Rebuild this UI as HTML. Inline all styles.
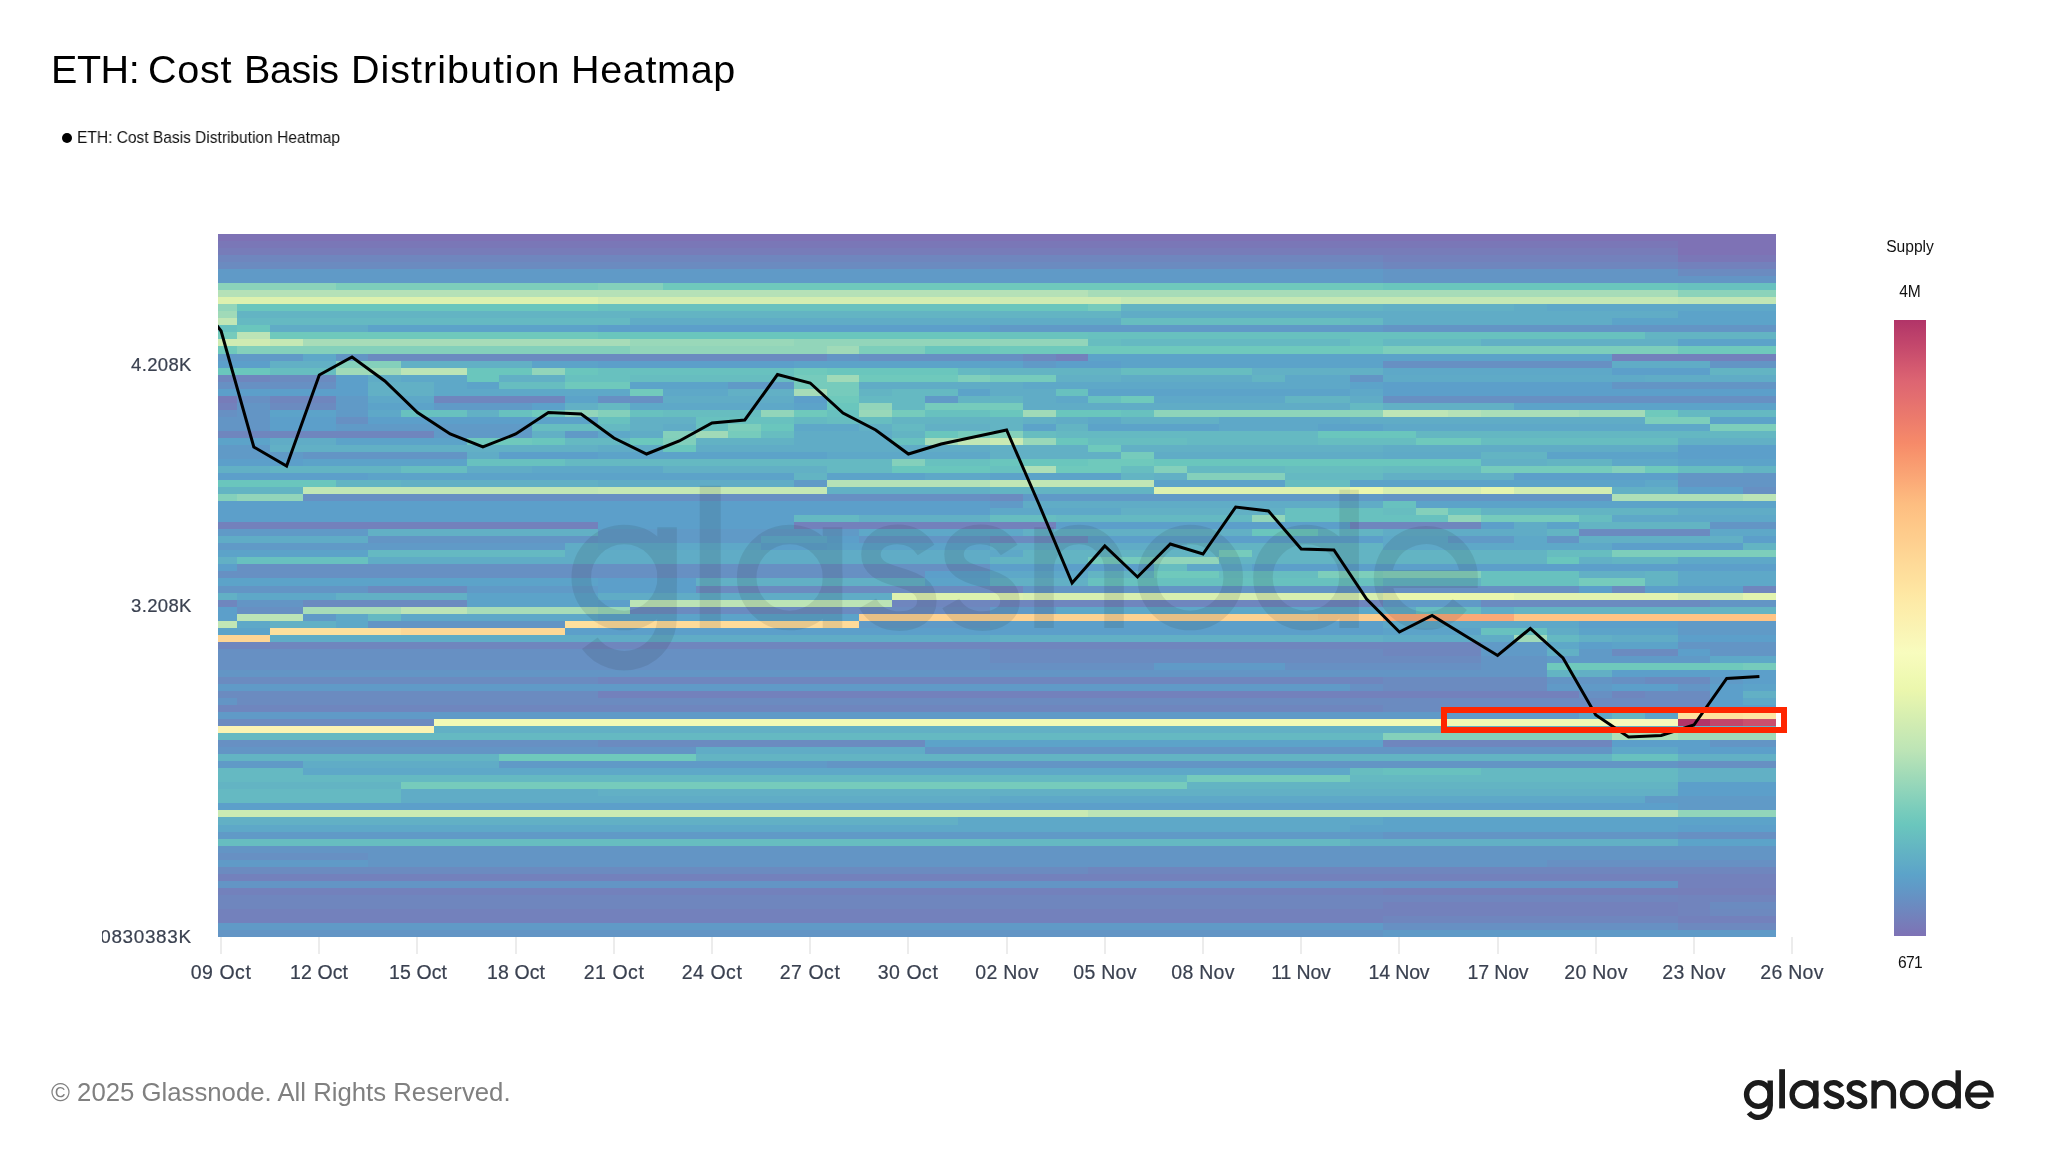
<!DOCTYPE html>
<html>
<head>
<meta charset="utf-8">
<title>ETH: Cost Basis Distribution Heatmap</title>
<style>
html,body{margin:0;padding:0;background:#fff;}
body{width:2048px;height:1152px;position:relative;overflow:hidden;font-family:"Liberation Sans",sans-serif;}
.abs{position:absolute;white-space:nowrap;}
.tw,.yt,.xt,#yclip div,.cbt,#footer,#legend{will-change:transform;}
.tw{top:43.7px;font-size:39.5px;line-height:50px;color:#000;}
#legend{left:77px;top:129.3px;font-size:16.6px;line-height:18px;color:#111;transform:scaleX(0.935);transform-origin:0 0;}
#legdot{left:61.7px;top:133.3px;width:10.2px;height:10.2px;border-radius:50%;background:#000;}
.yt{position:absolute;right:1856.3px;font-size:18.5px;line-height:22px;color:#3a4150;letter-spacing:0.35px;margin-top:0.55px;-webkit-text-stroke:0.2px #3a4150;white-space:nowrap;text-align:right;}
.xt{-webkit-text-stroke:0.2px #3a4150;position:absolute;top:960px;width:100px;text-align:center;font-size:19.5px;line-height:24px;color:#3a4150;letter-spacing:0.55px;white-space:nowrap;}
#yclip{position:absolute;left:102px;top:920px;width:91px;height:34px;overflow:hidden;}
#yclip div{position:absolute;right:1.1px;top:5.6px;font-size:18.9px;-webkit-text-stroke:0.2px #3a4150;line-height:22px;color:#3a4150;letter-spacing:0.66px;white-space:nowrap;}
.cbt{position:absolute;width:120px;left:1849.6px;text-align:center;font-size:15.6px;line-height:18px;color:#111;}
#footer{left:50.5px;top:1077px;font-size:25.74px;line-height:30px;color:#808080;}
#logo{left:1742px;top:1058px;font-size:54px;line-height:62px;color:#1b1b1b;-webkit-text-stroke:0.6px #1b1b1b;}
#wm{left:566px;top:455px;font-size:196px;line-height:230px;color:rgba(40,50,70,0.13);letter-spacing:1px;font-weight:bold;}
svg{position:absolute;left:0;top:0;}
</style>
</head>
<body>
<svg width="2048" height="1152" viewBox="0 0 2048 1152" shape-rendering="crispEdges">
<defs>
<linearGradient id="cb" x1="0" y1="0" x2="0" y2="1"><stop offset="0%" stop-color="#b13468"/><stop offset="2%" stop-color="#ba3e6a"/><stop offset="4%" stop-color="#c3476c"/><stop offset="6%" stop-color="#cc516e"/><stop offset="8%" stop-color="#d55b70"/><stop offset="10%" stop-color="#dd6572"/><stop offset="12%" stop-color="#e26c70"/><stop offset="14%" stop-color="#e7746e"/><stop offset="16%" stop-color="#ec7b6c"/><stop offset="18%" stop-color="#f1836b"/><stop offset="20%" stop-color="#f68a69"/><stop offset="22%" stop-color="#f8956d"/><stop offset="24%" stop-color="#f99f72"/><stop offset="26%" stop-color="#fba977"/><stop offset="28%" stop-color="#fcb47c"/><stop offset="30%" stop-color="#fdbe81"/><stop offset="32%" stop-color="#fec485"/><stop offset="34%" stop-color="#feca8a"/><stop offset="36%" stop-color="#fecf8f"/><stop offset="38%" stop-color="#fed594"/><stop offset="40%" stop-color="#fedb99"/><stop offset="42%" stop-color="#fee09d"/><stop offset="44%" stop-color="#fee6a2"/><stop offset="46%" stop-color="#fdeba8"/><stop offset="48%" stop-color="#fcefad"/><stop offset="50%" stop-color="#faf3b3"/><stop offset="52%" stop-color="#f9f7b9"/><stop offset="54%" stop-color="#f8fcbe"/><stop offset="56%" stop-color="#f4fab8"/><stop offset="58%" stop-color="#eff9b2"/><stop offset="60%" stop-color="#ebf7ad"/><stop offset="62%" stop-color="#e2f3af"/><stop offset="64%" stop-color="#d8efb0"/><stop offset="66%" stop-color="#cfebb2"/><stop offset="68%" stop-color="#c5e8b4"/><stop offset="70%" stop-color="#bce4b6"/><stop offset="72%" stop-color="#aedfb7"/><stop offset="74%" stop-color="#a0dab8"/><stop offset="76%" stop-color="#92d5ba"/><stop offset="78%" stop-color="#84d0bb"/><stop offset="80%" stop-color="#76cbbc"/><stop offset="82%" stop-color="#6ac6bd"/><stop offset="84%" stop-color="#67bdc0"/><stop offset="86%" stop-color="#63b4c3"/><stop offset="88%" stop-color="#60acc6"/><stop offset="90%" stop-color="#5ca3c9"/><stop offset="92%" stop-color="#609ac7"/><stop offset="94%" stop-color="#6790c3"/><stop offset="96%" stop-color="#6f86be"/><stop offset="98%" stop-color="#777cb9"/><stop offset="100%" stop-color="#7e72b5"/></linearGradient>
</defs>
<g>
<rect x="218.00" y="234.00" width="1557.77" height="7.33" fill="#7e72b5"/>
<rect x="218.00" y="241.03" width="1459.88" height="7.33" fill="#7a77b7"/>
<rect x="1677.58" y="241.03" width="98.19" height="7.33" fill="#7e72b5"/>
<rect x="218.00" y="248.06" width="1459.88" height="7.33" fill="#777cb9"/>
<rect x="1677.58" y="248.06" width="98.19" height="7.33" fill="#7e72b5"/>
<rect x="218.00" y="255.09" width="1165.31" height="7.33" fill="#6f86be"/>
<rect x="1383.01" y="255.09" width="294.87" height="7.33" fill="#7381bc"/>
<rect x="1677.58" y="255.09" width="98.19" height="7.33" fill="#7a77b7"/>
<rect x="218.00" y="262.12" width="1165.31" height="7.33" fill="#6b8bc0"/>
<rect x="1383.01" y="262.12" width="294.87" height="7.33" fill="#6f86be"/>
<rect x="1677.58" y="262.12" width="98.19" height="7.33" fill="#7381bc"/>
<rect x="218.00" y="269.15" width="1165.31" height="7.33" fill="#609ac7"/>
<rect x="1383.01" y="269.15" width="294.87" height="7.33" fill="#6395c5"/>
<rect x="1677.58" y="269.15" width="98.19" height="7.33" fill="#6b8bc0"/>
<rect x="218.00" y="276.18" width="1165.31" height="7.33" fill="#609ac7"/>
<rect x="1383.01" y="276.18" width="392.76" height="7.33" fill="#6395c5"/>
<rect x="218.00" y="283.21" width="117.95" height="7.33" fill="#8bd3ba"/>
<rect x="335.65" y="283.21" width="262.14" height="7.33" fill="#7dcebb"/>
<rect x="597.50" y="283.21" width="65.76" height="7.33" fill="#84d0bb"/>
<rect x="662.95" y="283.21" width="720.36" height="7.33" fill="#6fc9bc"/>
<rect x="1383.01" y="283.21" width="294.87" height="7.33" fill="#6ac6bd"/>
<rect x="1677.58" y="283.21" width="98.19" height="7.33" fill="#68c1bf"/>
<rect x="218.00" y="290.24" width="870.74" height="7.33" fill="#b5e1b7"/>
<rect x="1088.44" y="290.24" width="589.44" height="7.33" fill="#a7dcb8"/>
<rect x="1677.58" y="290.24" width="98.19" height="7.33" fill="#8bd3ba"/>
<rect x="218.00" y="297.27" width="379.80" height="7.33" fill="#ddf1af"/>
<rect x="597.50" y="297.27" width="393.06" height="7.33" fill="#d3edb1"/>
<rect x="990.25" y="297.27" width="131.22" height="7.33" fill="#cfebb2"/>
<rect x="1121.17" y="297.27" width="556.71" height="7.33" fill="#c5e8b4"/>
<rect x="1677.58" y="297.27" width="98.19" height="7.33" fill="#c1e6b5"/>
<rect x="218.00" y="304.30" width="19.77" height="7.33" fill="#92d5ba"/>
<rect x="237.47" y="304.30" width="360.33" height="7.33" fill="#6ac6bd"/>
<rect x="597.50" y="304.30" width="393.06" height="7.33" fill="#68c1bf"/>
<rect x="990.25" y="304.30" width="98.49" height="7.33" fill="#6ac6bd"/>
<rect x="1088.44" y="304.30" width="33.03" height="7.33" fill="#76cbbc"/>
<rect x="1121.17" y="304.30" width="262.14" height="7.33" fill="#63b4c3"/>
<rect x="1383.01" y="304.30" width="131.22" height="7.33" fill="#62b0c5"/>
<rect x="1513.93" y="304.30" width="33.03" height="7.33" fill="#60acc6"/>
<rect x="1546.66" y="304.30" width="229.11" height="7.33" fill="#5ea8c8"/>
<rect x="218.00" y="311.33" width="19.77" height="7.33" fill="#a0dab8"/>
<rect x="237.47" y="311.33" width="884.01" height="7.33" fill="#63b4c3"/>
<rect x="1121.17" y="311.33" width="556.71" height="7.33" fill="#60acc6"/>
<rect x="1677.58" y="311.33" width="98.19" height="7.33" fill="#5ca3c9"/>
<rect x="218.00" y="318.36" width="19.77" height="7.33" fill="#c1e6b5"/>
<rect x="237.47" y="318.36" width="393.06" height="7.33" fill="#65b9c2"/>
<rect x="630.22" y="318.36" width="491.25" height="7.33" fill="#60acc6"/>
<rect x="1121.17" y="318.36" width="229.41" height="7.33" fill="#67bdc0"/>
<rect x="1350.28" y="318.36" width="33.03" height="7.33" fill="#65b9c2"/>
<rect x="1383.01" y="318.36" width="229.41" height="7.33" fill="#60acc6"/>
<rect x="1612.12" y="318.36" width="163.65" height="7.33" fill="#5ca3c9"/>
<rect x="218.00" y="325.39" width="19.77" height="7.33" fill="#68c1bf"/>
<rect x="237.47" y="325.39" width="33.03" height="7.33" fill="#6ac6bd"/>
<rect x="270.19" y="325.39" width="98.49" height="7.33" fill="#60acc6"/>
<rect x="368.38" y="325.39" width="229.41" height="7.33" fill="#5ca3c9"/>
<rect x="597.50" y="325.39" width="393.06" height="7.33" fill="#5c9fca"/>
<rect x="990.25" y="325.39" width="393.06" height="7.33" fill="#609ac7"/>
<rect x="1383.01" y="325.39" width="392.76" height="7.33" fill="#6395c5"/>
<rect x="218.00" y="332.42" width="19.77" height="7.33" fill="#76cbbc"/>
<rect x="237.47" y="332.42" width="33.03" height="7.33" fill="#bce4b6"/>
<rect x="270.19" y="332.42" width="327.60" height="7.33" fill="#6fc9bc"/>
<rect x="597.50" y="332.42" width="393.06" height="7.33" fill="#6ac6bd"/>
<rect x="990.25" y="332.42" width="98.49" height="7.33" fill="#69c3be"/>
<rect x="1088.44" y="332.42" width="556.71" height="7.33" fill="#68c1bf"/>
<rect x="1644.85" y="332.42" width="130.92" height="7.33" fill="#63b4c3"/>
<rect x="218.00" y="339.45" width="52.49" height="7.33" fill="#cfebb2"/>
<rect x="270.19" y="339.45" width="33.03" height="7.33" fill="#c5e8b4"/>
<rect x="302.92" y="339.45" width="327.60" height="7.33" fill="#a7dcb8"/>
<rect x="630.22" y="339.45" width="163.95" height="7.33" fill="#99d8b9"/>
<rect x="793.88" y="339.45" width="294.87" height="7.33" fill="#92d5ba"/>
<rect x="1088.44" y="339.45" width="33.03" height="7.33" fill="#67bdc0"/>
<rect x="1121.17" y="339.45" width="229.41" height="7.33" fill="#65b9c2"/>
<rect x="1350.28" y="339.45" width="33.03" height="7.33" fill="#68c1bf"/>
<rect x="1383.01" y="339.45" width="98.49" height="7.33" fill="#65b9c2"/>
<rect x="1481.20" y="339.45" width="196.68" height="7.33" fill="#62b0c5"/>
<rect x="1677.58" y="339.45" width="98.19" height="7.33" fill="#5ca3c9"/>
<rect x="218.00" y="346.48" width="19.77" height="7.33" fill="#6fc9bc"/>
<rect x="237.47" y="346.48" width="393.06" height="7.33" fill="#84d0bb"/>
<rect x="630.22" y="346.48" width="196.68" height="7.33" fill="#92d5ba"/>
<rect x="826.61" y="346.48" width="33.03" height="7.33" fill="#a0dab8"/>
<rect x="859.33" y="346.48" width="65.76" height="7.33" fill="#7dcebb"/>
<rect x="924.79" y="346.48" width="65.76" height="7.33" fill="#6ac6bd"/>
<rect x="990.25" y="346.48" width="393.06" height="7.33" fill="#6fc9bc"/>
<rect x="1383.01" y="346.48" width="294.87" height="7.33" fill="#7dcebb"/>
<rect x="1677.58" y="346.48" width="98.19" height="7.33" fill="#6fc9bc"/>
<rect x="218.00" y="353.51" width="85.22" height="7.33" fill="#609ac7"/>
<rect x="302.92" y="353.51" width="33.03" height="7.33" fill="#5ea8c8"/>
<rect x="335.65" y="353.51" width="33.03" height="7.33" fill="#6395c5"/>
<rect x="368.38" y="353.51" width="458.52" height="7.33" fill="#6b8bc0"/>
<rect x="826.61" y="353.51" width="33.03" height="7.33" fill="#6395c5"/>
<rect x="859.33" y="353.51" width="163.95" height="7.33" fill="#6790c3"/>
<rect x="1022.98" y="353.51" width="33.03" height="7.33" fill="#6d89bf"/>
<rect x="1055.71" y="353.51" width="33.03" height="7.33" fill="#7381bc"/>
<rect x="1088.44" y="353.51" width="523.98" height="7.33" fill="#5ca3c9"/>
<rect x="1612.12" y="353.51" width="163.65" height="7.33" fill="#7381bc"/>
<rect x="218.00" y="360.54" width="52.49" height="7.33" fill="#5c9fca"/>
<rect x="270.19" y="360.54" width="65.76" height="7.33" fill="#62b0c5"/>
<rect x="335.65" y="360.54" width="65.76" height="7.33" fill="#84d0bb"/>
<rect x="401.12" y="360.54" width="131.22" height="7.33" fill="#62b0c5"/>
<rect x="532.03" y="360.54" width="65.76" height="7.33" fill="#5ca3c9"/>
<rect x="597.50" y="360.54" width="196.68" height="7.33" fill="#5c9fca"/>
<rect x="793.88" y="360.54" width="229.41" height="7.33" fill="#5ca3c9"/>
<rect x="1022.98" y="360.54" width="33.03" height="7.33" fill="#609ac7"/>
<rect x="1055.71" y="360.54" width="65.76" height="7.33" fill="#5c9fca"/>
<rect x="1121.17" y="360.54" width="262.14" height="7.33" fill="#5ca3c9"/>
<rect x="1383.01" y="360.54" width="229.41" height="7.33" fill="#6790c3"/>
<rect x="1612.12" y="360.54" width="98.49" height="7.33" fill="#60acc6"/>
<rect x="1710.31" y="360.54" width="65.46" height="7.33" fill="#6395c5"/>
<rect x="218.00" y="367.57" width="52.49" height="7.33" fill="#6ac6bd"/>
<rect x="270.19" y="367.57" width="65.76" height="7.33" fill="#67bdc0"/>
<rect x="335.65" y="367.57" width="65.76" height="7.33" fill="#a0dab8"/>
<rect x="401.12" y="367.57" width="65.76" height="7.33" fill="#bce4b6"/>
<rect x="466.57" y="367.57" width="65.76" height="7.33" fill="#6ac6bd"/>
<rect x="532.03" y="367.57" width="33.03" height="7.33" fill="#92d5ba"/>
<rect x="564.76" y="367.57" width="33.03" height="7.33" fill="#6ac6bd"/>
<rect x="597.50" y="367.57" width="196.68" height="7.33" fill="#68c1bf"/>
<rect x="793.88" y="367.57" width="33.03" height="7.33" fill="#6fc9bc"/>
<rect x="826.61" y="367.57" width="131.22" height="7.33" fill="#6ac6bd"/>
<rect x="957.52" y="367.57" width="33.03" height="7.33" fill="#65b9c2"/>
<rect x="990.25" y="367.57" width="131.22" height="7.33" fill="#63b4c3"/>
<rect x="1121.17" y="367.57" width="131.22" height="7.33" fill="#67bdc0"/>
<rect x="1252.09" y="367.57" width="131.22" height="7.33" fill="#62b0c5"/>
<rect x="1383.01" y="367.57" width="229.41" height="7.33" fill="#5ea8c8"/>
<rect x="1612.12" y="367.57" width="98.49" height="7.33" fill="#5c9fca"/>
<rect x="1710.31" y="367.57" width="65.46" height="7.33" fill="#63b4c3"/>
<rect x="218.00" y="374.60" width="52.49" height="7.33" fill="#6f86be"/>
<rect x="270.19" y="374.60" width="65.76" height="7.33" fill="#6b8bc0"/>
<rect x="335.65" y="374.60" width="33.03" height="7.33" fill="#5c9fca"/>
<rect x="368.38" y="374.60" width="33.03" height="7.33" fill="#60acc6"/>
<rect x="401.12" y="374.60" width="65.76" height="7.33" fill="#5ea8c8"/>
<rect x="466.57" y="374.60" width="33.03" height="7.33" fill="#6ac6bd"/>
<rect x="499.30" y="374.60" width="65.76" height="7.33" fill="#62b0c5"/>
<rect x="564.76" y="374.60" width="65.76" height="7.33" fill="#68c1bf"/>
<rect x="630.22" y="374.60" width="163.95" height="7.33" fill="#67bdc0"/>
<rect x="793.88" y="374.60" width="33.03" height="7.33" fill="#76cbbc"/>
<rect x="826.61" y="374.60" width="33.03" height="7.33" fill="#a0dab8"/>
<rect x="859.33" y="374.60" width="98.49" height="7.33" fill="#6fc9bc"/>
<rect x="957.52" y="374.60" width="33.03" height="7.33" fill="#80cfbb"/>
<rect x="990.25" y="374.60" width="65.76" height="7.33" fill="#76cbbc"/>
<rect x="1055.71" y="374.60" width="65.76" height="7.33" fill="#62b0c5"/>
<rect x="1121.17" y="374.60" width="131.22" height="7.33" fill="#60acc6"/>
<rect x="1252.09" y="374.60" width="33.03" height="7.33" fill="#63b4c3"/>
<rect x="1284.82" y="374.60" width="65.76" height="7.33" fill="#5ea8c8"/>
<rect x="1350.28" y="374.60" width="33.03" height="7.33" fill="#6395c5"/>
<rect x="1383.01" y="374.60" width="262.14" height="7.33" fill="#5faac7"/>
<rect x="1644.85" y="374.60" width="130.92" height="7.33" fill="#60acc6"/>
<rect x="218.00" y="381.63" width="117.95" height="7.33" fill="#6790c3"/>
<rect x="335.65" y="381.63" width="33.03" height="7.33" fill="#5c9fca"/>
<rect x="368.38" y="381.63" width="65.76" height="7.33" fill="#62b0c5"/>
<rect x="433.84" y="381.63" width="33.03" height="7.33" fill="#5ea8c8"/>
<rect x="466.57" y="381.63" width="33.03" height="7.33" fill="#5ca3c9"/>
<rect x="499.30" y="381.63" width="65.76" height="7.33" fill="#67bdc0"/>
<rect x="564.76" y="381.63" width="65.76" height="7.33" fill="#6fc9bc"/>
<rect x="630.22" y="381.63" width="98.49" height="7.33" fill="#5ca3c9"/>
<rect x="728.41" y="381.63" width="65.76" height="7.33" fill="#609ac7"/>
<rect x="793.88" y="381.63" width="65.76" height="7.33" fill="#76cbbc"/>
<rect x="859.33" y="381.63" width="163.95" height="7.33" fill="#60acc6"/>
<rect x="1022.98" y="381.63" width="327.60" height="7.33" fill="#5ea8c8"/>
<rect x="1350.28" y="381.63" width="33.03" height="7.33" fill="#5ca3c9"/>
<rect x="1383.01" y="381.63" width="229.41" height="7.33" fill="#5c9fca"/>
<rect x="1612.12" y="381.63" width="163.65" height="7.33" fill="#6395c5"/>
<rect x="218.00" y="388.66" width="150.69" height="7.33" fill="#5c9fca"/>
<rect x="368.38" y="388.66" width="65.76" height="7.33" fill="#62b0c5"/>
<rect x="433.84" y="388.66" width="196.68" height="7.33" fill="#5ea8c8"/>
<rect x="630.22" y="388.66" width="33.03" height="7.33" fill="#72cabc"/>
<rect x="662.95" y="388.66" width="65.76" height="7.33" fill="#5ea8c8"/>
<rect x="728.41" y="388.66" width="65.76" height="7.33" fill="#62b0c5"/>
<rect x="793.88" y="388.66" width="33.03" height="7.33" fill="#a7dcb8"/>
<rect x="826.61" y="388.66" width="33.03" height="7.33" fill="#76cbbc"/>
<rect x="859.33" y="388.66" width="33.03" height="7.33" fill="#63b4c3"/>
<rect x="892.06" y="388.66" width="65.76" height="7.33" fill="#65b9c2"/>
<rect x="957.52" y="388.66" width="33.03" height="7.33" fill="#5ca3c9"/>
<rect x="990.25" y="388.66" width="65.76" height="7.33" fill="#60acc6"/>
<rect x="1055.71" y="388.66" width="33.03" height="7.33" fill="#68c1bf"/>
<rect x="1088.44" y="388.66" width="262.14" height="7.33" fill="#5ca3c9"/>
<rect x="1350.28" y="388.66" width="33.03" height="7.33" fill="#5ea8c8"/>
<rect x="1383.01" y="388.66" width="392.76" height="7.33" fill="#5c9fca"/>
<rect x="218.00" y="395.69" width="19.77" height="7.33" fill="#777cb9"/>
<rect x="237.47" y="395.69" width="33.03" height="7.33" fill="#6790c3"/>
<rect x="270.19" y="395.69" width="65.76" height="7.33" fill="#6f86be"/>
<rect x="335.65" y="395.69" width="33.03" height="7.33" fill="#609ac7"/>
<rect x="368.38" y="395.69" width="65.76" height="7.33" fill="#5ea8c8"/>
<rect x="433.84" y="395.69" width="131.22" height="7.33" fill="#6f86be"/>
<rect x="564.76" y="395.69" width="33.03" height="7.33" fill="#5ca3c9"/>
<rect x="597.50" y="395.69" width="65.76" height="7.33" fill="#6790c3"/>
<rect x="662.95" y="395.69" width="131.22" height="7.33" fill="#60acc6"/>
<rect x="793.88" y="395.69" width="33.03" height="7.33" fill="#5c9fca"/>
<rect x="826.61" y="395.69" width="33.03" height="7.33" fill="#6fc9bc"/>
<rect x="859.33" y="395.69" width="65.76" height="7.33" fill="#65b9c2"/>
<rect x="924.79" y="395.69" width="33.03" height="7.33" fill="#609ac7"/>
<rect x="957.52" y="395.69" width="65.76" height="7.33" fill="#63b4c3"/>
<rect x="1022.98" y="395.69" width="33.03" height="7.33" fill="#60acc6"/>
<rect x="1055.71" y="395.69" width="33.03" height="7.33" fill="#5ea8c8"/>
<rect x="1088.44" y="395.69" width="33.03" height="7.33" fill="#68c1bf"/>
<rect x="1121.17" y="395.69" width="33.03" height="7.33" fill="#6fc9bc"/>
<rect x="1153.90" y="395.69" width="131.22" height="7.33" fill="#5ea8c8"/>
<rect x="1284.82" y="395.69" width="65.76" height="7.33" fill="#63b4c3"/>
<rect x="1350.28" y="395.69" width="33.03" height="7.33" fill="#60acc6"/>
<rect x="1383.01" y="395.69" width="392.76" height="7.33" fill="#6790c3"/>
<rect x="218.00" y="402.72" width="19.77" height="7.33" fill="#7381bc"/>
<rect x="237.47" y="402.72" width="33.03" height="7.33" fill="#6395c5"/>
<rect x="270.19" y="402.72" width="65.76" height="7.33" fill="#6b8bc0"/>
<rect x="335.65" y="402.72" width="33.03" height="7.33" fill="#609ac7"/>
<rect x="368.38" y="402.72" width="65.76" height="7.33" fill="#5ca3c9"/>
<rect x="433.84" y="402.72" width="98.49" height="7.33" fill="#609ac7"/>
<rect x="532.03" y="402.72" width="33.03" height="7.33" fill="#5ca1ca"/>
<rect x="564.76" y="402.72" width="33.03" height="7.33" fill="#62b0c5"/>
<rect x="597.50" y="402.72" width="33.03" height="7.33" fill="#65b9c2"/>
<rect x="630.22" y="402.72" width="163.95" height="7.33" fill="#5ea8c8"/>
<rect x="793.88" y="402.72" width="33.03" height="7.33" fill="#5ca3c9"/>
<rect x="826.61" y="402.72" width="33.03" height="7.33" fill="#6ac6bd"/>
<rect x="859.33" y="402.72" width="33.03" height="7.33" fill="#92d5ba"/>
<rect x="892.06" y="402.72" width="33.03" height="7.33" fill="#65b9c2"/>
<rect x="924.79" y="402.72" width="98.49" height="7.33" fill="#76cbbc"/>
<rect x="1022.98" y="402.72" width="327.60" height="7.33" fill="#60acc6"/>
<rect x="1350.28" y="402.72" width="33.03" height="7.33" fill="#65b9c2"/>
<rect x="1383.01" y="402.72" width="131.22" height="7.33" fill="#62b0c5"/>
<rect x="1513.93" y="402.72" width="261.84" height="7.33" fill="#5ca3c9"/>
<rect x="218.00" y="409.75" width="19.77" height="7.33" fill="#6790c3"/>
<rect x="237.47" y="409.75" width="33.03" height="7.33" fill="#6395c5"/>
<rect x="270.19" y="409.75" width="65.76" height="7.33" fill="#5ca3c9"/>
<rect x="335.65" y="409.75" width="33.03" height="7.33" fill="#609ac7"/>
<rect x="368.38" y="409.75" width="33.03" height="7.33" fill="#5ea8c8"/>
<rect x="401.12" y="409.75" width="65.76" height="7.33" fill="#68c1bf"/>
<rect x="466.57" y="409.75" width="33.03" height="7.33" fill="#62b0c5"/>
<rect x="499.30" y="409.75" width="33.03" height="7.33" fill="#68c1bf"/>
<rect x="532.03" y="409.75" width="33.03" height="7.33" fill="#6fc9bc"/>
<rect x="564.76" y="409.75" width="33.03" height="7.33" fill="#92d5ba"/>
<rect x="597.50" y="409.75" width="33.03" height="7.33" fill="#84d0bb"/>
<rect x="630.22" y="409.75" width="33.03" height="7.33" fill="#68c1bf"/>
<rect x="662.95" y="409.75" width="98.49" height="7.33" fill="#67bdc0"/>
<rect x="761.14" y="409.75" width="33.03" height="7.33" fill="#92d5ba"/>
<rect x="793.88" y="409.75" width="33.03" height="7.33" fill="#6fc9bc"/>
<rect x="826.61" y="409.75" width="33.03" height="7.33" fill="#68c1bf"/>
<rect x="859.33" y="409.75" width="33.03" height="7.33" fill="#99d8b9"/>
<rect x="892.06" y="409.75" width="33.03" height="7.33" fill="#76cbbc"/>
<rect x="924.79" y="409.75" width="65.76" height="7.33" fill="#68c1bf"/>
<rect x="990.25" y="409.75" width="33.03" height="7.33" fill="#6ac6bd"/>
<rect x="1022.98" y="409.75" width="33.03" height="7.33" fill="#a0dab8"/>
<rect x="1055.71" y="409.75" width="65.76" height="7.33" fill="#6ac6bd"/>
<rect x="1121.17" y="409.75" width="33.03" height="7.33" fill="#68c1bf"/>
<rect x="1153.90" y="409.75" width="229.41" height="7.33" fill="#8ed4ba"/>
<rect x="1383.01" y="409.75" width="65.76" height="7.33" fill="#bee5b6"/>
<rect x="1448.47" y="409.75" width="33.03" height="7.33" fill="#b5e1b7"/>
<rect x="1481.20" y="409.75" width="98.49" height="7.33" fill="#aadeb8"/>
<rect x="1579.39" y="409.75" width="65.76" height="7.33" fill="#a3dbb8"/>
<rect x="1644.85" y="409.75" width="33.03" height="7.33" fill="#6fc9bc"/>
<rect x="1677.58" y="409.75" width="98.19" height="7.33" fill="#65b9c2"/>
<rect x="218.00" y="416.78" width="52.49" height="7.33" fill="#6395c5"/>
<rect x="270.19" y="416.78" width="65.76" height="7.33" fill="#5c9fca"/>
<rect x="335.65" y="416.78" width="33.03" height="7.33" fill="#6790c3"/>
<rect x="368.38" y="416.78" width="163.95" height="7.33" fill="#5c9fca"/>
<rect x="532.03" y="416.78" width="65.76" height="7.33" fill="#5ca3c9"/>
<rect x="597.50" y="416.78" width="33.03" height="7.33" fill="#68c1bf"/>
<rect x="630.22" y="416.78" width="65.76" height="7.33" fill="#62b0c5"/>
<rect x="695.68" y="416.78" width="98.49" height="7.33" fill="#68c1bf"/>
<rect x="793.88" y="416.78" width="33.03" height="7.33" fill="#65b9c2"/>
<rect x="826.61" y="416.78" width="65.76" height="7.33" fill="#67bdc0"/>
<rect x="892.06" y="416.78" width="131.22" height="7.33" fill="#63b4c3"/>
<rect x="1022.98" y="416.78" width="33.03" height="7.33" fill="#62b0c5"/>
<rect x="1055.71" y="416.78" width="33.03" height="7.33" fill="#60acc6"/>
<rect x="1088.44" y="416.78" width="33.03" height="7.33" fill="#5ea8c8"/>
<rect x="1121.17" y="416.78" width="98.49" height="7.33" fill="#62b0c5"/>
<rect x="1219.36" y="416.78" width="131.22" height="7.33" fill="#5ea8c8"/>
<rect x="1350.28" y="416.78" width="294.87" height="7.33" fill="#60acc6"/>
<rect x="1644.85" y="416.78" width="65.76" height="7.33" fill="#7dcebb"/>
<rect x="1710.31" y="416.78" width="65.46" height="7.33" fill="#5ca3c9"/>
<rect x="218.00" y="423.81" width="52.49" height="7.33" fill="#6395c5"/>
<rect x="270.19" y="423.81" width="65.76" height="7.33" fill="#5c9fca"/>
<rect x="335.65" y="423.81" width="196.68" height="7.33" fill="#609ac7"/>
<rect x="532.03" y="423.81" width="65.76" height="7.33" fill="#67bdc0"/>
<rect x="597.50" y="423.81" width="33.03" height="7.33" fill="#65b9c2"/>
<rect x="630.22" y="423.81" width="33.03" height="7.33" fill="#62b0c5"/>
<rect x="662.95" y="423.81" width="33.03" height="7.33" fill="#60acc6"/>
<rect x="695.68" y="423.81" width="33.03" height="7.33" fill="#68c1bf"/>
<rect x="728.41" y="423.81" width="33.03" height="7.33" fill="#7dcebb"/>
<rect x="761.14" y="423.81" width="33.03" height="7.33" fill="#6ac6bd"/>
<rect x="793.88" y="423.81" width="65.76" height="7.33" fill="#5ea8c8"/>
<rect x="859.33" y="423.81" width="33.03" height="7.33" fill="#62b0c5"/>
<rect x="892.06" y="423.81" width="33.03" height="7.33" fill="#65b9c2"/>
<rect x="924.79" y="423.81" width="65.76" height="7.33" fill="#62b0c5"/>
<rect x="990.25" y="423.81" width="33.03" height="7.33" fill="#63b4c3"/>
<rect x="1022.98" y="423.81" width="33.03" height="7.33" fill="#5ca3c9"/>
<rect x="1055.71" y="423.81" width="33.03" height="7.33" fill="#63b4c3"/>
<rect x="1088.44" y="423.81" width="131.22" height="7.33" fill="#5ca3c9"/>
<rect x="1219.36" y="423.81" width="98.49" height="7.33" fill="#5ea8c8"/>
<rect x="1317.55" y="423.81" width="65.76" height="7.33" fill="#5ca3c9"/>
<rect x="1383.01" y="423.81" width="327.60" height="7.33" fill="#5ea8c8"/>
<rect x="1710.31" y="423.81" width="65.46" height="7.33" fill="#7dcebb"/>
<rect x="218.00" y="430.84" width="216.14" height="7.33" fill="#6f86be"/>
<rect x="433.84" y="430.84" width="98.49" height="7.33" fill="#609ac7"/>
<rect x="532.03" y="430.84" width="33.03" height="7.33" fill="#62b0c5"/>
<rect x="564.76" y="430.84" width="33.03" height="7.33" fill="#609ac7"/>
<rect x="597.50" y="430.84" width="33.03" height="7.33" fill="#5ea8c8"/>
<rect x="630.22" y="430.84" width="33.03" height="7.33" fill="#60acc6"/>
<rect x="662.95" y="430.84" width="33.03" height="7.33" fill="#84d0bb"/>
<rect x="695.68" y="430.84" width="33.03" height="7.33" fill="#a0dab8"/>
<rect x="728.41" y="430.84" width="33.03" height="7.33" fill="#76cbbc"/>
<rect x="761.14" y="430.84" width="33.03" height="7.33" fill="#67bdc0"/>
<rect x="793.88" y="430.84" width="98.49" height="7.33" fill="#60acc6"/>
<rect x="892.06" y="430.84" width="33.03" height="7.33" fill="#63b4c3"/>
<rect x="924.79" y="430.84" width="33.03" height="7.33" fill="#6ac6bd"/>
<rect x="957.52" y="430.84" width="33.03" height="7.33" fill="#76cbbc"/>
<rect x="990.25" y="430.84" width="33.03" height="7.33" fill="#84d0bb"/>
<rect x="1022.98" y="430.84" width="33.03" height="7.33" fill="#67bdc0"/>
<rect x="1055.71" y="430.84" width="262.14" height="7.33" fill="#65b9c2"/>
<rect x="1317.55" y="430.84" width="98.49" height="7.33" fill="#6ac6bd"/>
<rect x="1415.74" y="430.84" width="360.03" height="7.33" fill="#64b7c2"/>
<rect x="218.00" y="437.87" width="52.49" height="7.33" fill="#5ca3c9"/>
<rect x="270.19" y="437.87" width="65.76" height="7.33" fill="#60acc6"/>
<rect x="335.65" y="437.87" width="131.22" height="7.33" fill="#5ca3c9"/>
<rect x="466.57" y="437.87" width="65.76" height="7.33" fill="#6fc9bc"/>
<rect x="532.03" y="437.87" width="33.03" height="7.33" fill="#6ac6bd"/>
<rect x="564.76" y="437.87" width="65.76" height="7.33" fill="#65b9c2"/>
<rect x="630.22" y="437.87" width="33.03" height="7.33" fill="#6bc8bd"/>
<rect x="662.95" y="437.87" width="33.03" height="7.33" fill="#80cfbb"/>
<rect x="695.68" y="437.87" width="98.49" height="7.33" fill="#62b2c4"/>
<rect x="793.88" y="437.87" width="98.49" height="7.33" fill="#60acc6"/>
<rect x="892.06" y="437.87" width="33.03" height="7.33" fill="#68c1bf"/>
<rect x="924.79" y="437.87" width="33.03" height="7.33" fill="#a7dcb8"/>
<rect x="957.52" y="437.87" width="33.03" height="7.33" fill="#c1e6b5"/>
<rect x="990.25" y="437.87" width="33.03" height="7.33" fill="#caeab3"/>
<rect x="1022.98" y="437.87" width="33.03" height="7.33" fill="#99d8b9"/>
<rect x="1055.71" y="437.87" width="33.03" height="7.33" fill="#6ac6bd"/>
<rect x="1088.44" y="437.87" width="98.49" height="7.33" fill="#67bdc0"/>
<rect x="1186.63" y="437.87" width="131.22" height="7.33" fill="#65b9c2"/>
<rect x="1317.55" y="437.87" width="98.49" height="7.33" fill="#67bdc0"/>
<rect x="1415.74" y="437.87" width="65.76" height="7.33" fill="#6fc9bc"/>
<rect x="1481.20" y="437.87" width="196.68" height="7.33" fill="#67bdc0"/>
<rect x="1677.58" y="437.87" width="98.19" height="7.33" fill="#62b0c5"/>
<rect x="218.00" y="444.90" width="52.49" height="7.33" fill="#609ac7"/>
<rect x="270.19" y="444.90" width="327.60" height="7.33" fill="#62b0c5"/>
<rect x="597.50" y="444.90" width="65.76" height="7.33" fill="#60acc6"/>
<rect x="662.95" y="444.90" width="33.03" height="7.33" fill="#6ac6bd"/>
<rect x="695.68" y="444.90" width="294.87" height="7.33" fill="#60acc6"/>
<rect x="990.25" y="444.90" width="98.49" height="7.33" fill="#62b0c5"/>
<rect x="1088.44" y="444.90" width="33.03" height="7.33" fill="#6fc9bc"/>
<rect x="1121.17" y="444.90" width="262.14" height="7.33" fill="#62b0c5"/>
<rect x="1383.01" y="444.90" width="294.87" height="7.33" fill="#60acc6"/>
<rect x="1677.58" y="444.90" width="98.19" height="7.33" fill="#5c9fca"/>
<rect x="218.00" y="451.93" width="85.22" height="7.33" fill="#609ac7"/>
<rect x="302.92" y="451.93" width="163.95" height="7.33" fill="#6395c5"/>
<rect x="466.57" y="451.93" width="33.03" height="7.33" fill="#60acc6"/>
<rect x="499.30" y="451.93" width="98.49" height="7.33" fill="#5c9fca"/>
<rect x="597.50" y="451.93" width="229.41" height="7.33" fill="#5ca3c9"/>
<rect x="826.61" y="451.93" width="163.95" height="7.33" fill="#5ea8c8"/>
<rect x="990.25" y="451.93" width="131.22" height="7.33" fill="#62b0c5"/>
<rect x="1121.17" y="451.93" width="33.03" height="7.33" fill="#76cbbc"/>
<rect x="1153.90" y="451.93" width="229.41" height="7.33" fill="#60acc6"/>
<rect x="1383.01" y="451.93" width="98.49" height="7.33" fill="#5faac7"/>
<rect x="1481.20" y="451.93" width="65.76" height="7.33" fill="#63b4c3"/>
<rect x="1546.66" y="451.93" width="131.22" height="7.33" fill="#5ca3c9"/>
<rect x="1677.58" y="451.93" width="98.19" height="7.33" fill="#5c9fca"/>
<rect x="218.00" y="458.96" width="85.22" height="7.33" fill="#5c9fca"/>
<rect x="302.92" y="458.96" width="163.95" height="7.33" fill="#5ca3c9"/>
<rect x="466.57" y="458.96" width="98.49" height="7.33" fill="#68c1bf"/>
<rect x="564.76" y="458.96" width="327.60" height="7.33" fill="#65b9c2"/>
<rect x="892.06" y="458.96" width="33.03" height="7.33" fill="#84d0bb"/>
<rect x="924.79" y="458.96" width="65.76" height="7.33" fill="#68c1bf"/>
<rect x="990.25" y="458.96" width="98.49" height="7.33" fill="#6ac6bd"/>
<rect x="1088.44" y="458.96" width="65.76" height="7.33" fill="#6fc9bc"/>
<rect x="1153.90" y="458.96" width="327.60" height="7.33" fill="#6ac6bd"/>
<rect x="1481.20" y="458.96" width="65.76" height="7.33" fill="#62b0c5"/>
<rect x="1546.66" y="458.96" width="65.76" height="7.33" fill="#63b4c3"/>
<rect x="1612.12" y="458.96" width="65.76" height="7.33" fill="#5ea8c8"/>
<rect x="1677.58" y="458.96" width="98.19" height="7.33" fill="#5ca3c9"/>
<rect x="218.00" y="465.99" width="52.49" height="7.33" fill="#62b0c5"/>
<rect x="270.19" y="465.99" width="131.22" height="7.33" fill="#63b4c3"/>
<rect x="401.12" y="465.99" width="65.76" height="7.33" fill="#67bdc0"/>
<rect x="466.57" y="465.99" width="65.76" height="7.33" fill="#60acc6"/>
<rect x="532.03" y="465.99" width="131.22" height="7.33" fill="#5ea8c8"/>
<rect x="662.95" y="465.99" width="163.95" height="7.33" fill="#62b0c5"/>
<rect x="826.61" y="465.99" width="65.76" height="7.33" fill="#65b9c2"/>
<rect x="892.06" y="465.99" width="98.49" height="7.33" fill="#6ac6bd"/>
<rect x="990.25" y="465.99" width="33.03" height="7.33" fill="#68c1bf"/>
<rect x="1022.98" y="465.99" width="33.03" height="7.33" fill="#aedfb7"/>
<rect x="1055.71" y="465.99" width="65.76" height="7.33" fill="#6fc9bc"/>
<rect x="1121.17" y="465.99" width="33.03" height="7.33" fill="#67bdc0"/>
<rect x="1153.90" y="465.99" width="33.03" height="7.33" fill="#84d0bb"/>
<rect x="1186.63" y="465.99" width="98.49" height="7.33" fill="#65b9c2"/>
<rect x="1284.82" y="465.99" width="98.49" height="7.33" fill="#67bdc0"/>
<rect x="1383.01" y="465.99" width="98.49" height="7.33" fill="#66bbc1"/>
<rect x="1481.20" y="465.99" width="131.22" height="7.33" fill="#76cbbc"/>
<rect x="1612.12" y="465.99" width="33.03" height="7.33" fill="#84d0bb"/>
<rect x="1644.85" y="465.99" width="33.03" height="7.33" fill="#6fc9bc"/>
<rect x="1677.58" y="465.99" width="65.76" height="7.33" fill="#67bdc0"/>
<rect x="1743.04" y="465.99" width="32.73" height="7.33" fill="#63b4c3"/>
<rect x="218.00" y="473.02" width="150.69" height="7.33" fill="#5c9fca"/>
<rect x="368.38" y="473.02" width="425.79" height="7.33" fill="#5ca3c9"/>
<rect x="793.88" y="473.02" width="33.03" height="7.33" fill="#63b4c3"/>
<rect x="826.61" y="473.02" width="98.49" height="7.33" fill="#5ca3c9"/>
<rect x="924.79" y="473.02" width="65.76" height="7.33" fill="#5ea8c8"/>
<rect x="990.25" y="473.02" width="131.22" height="7.33" fill="#5ca3c9"/>
<rect x="1121.17" y="473.02" width="33.03" height="7.33" fill="#63b4c3"/>
<rect x="1153.90" y="473.02" width="33.03" height="7.33" fill="#62b0c5"/>
<rect x="1186.63" y="473.02" width="98.49" height="7.33" fill="#84d0bb"/>
<rect x="1284.82" y="473.02" width="98.49" height="7.33" fill="#65b9c2"/>
<rect x="1383.01" y="473.02" width="131.22" height="7.33" fill="#62b0c5"/>
<rect x="1513.93" y="473.02" width="163.95" height="7.33" fill="#5c9fca"/>
<rect x="1677.58" y="473.02" width="98.19" height="7.33" fill="#6395c5"/>
<rect x="218.00" y="480.05" width="117.95" height="7.33" fill="#6ac6bd"/>
<rect x="335.65" y="480.05" width="65.76" height="7.33" fill="#63b4c3"/>
<rect x="401.12" y="480.05" width="196.68" height="7.33" fill="#62b0c5"/>
<rect x="597.50" y="480.05" width="196.68" height="7.33" fill="#60acc6"/>
<rect x="793.88" y="480.05" width="33.03" height="7.33" fill="#609ac7"/>
<rect x="826.61" y="480.05" width="163.95" height="7.33" fill="#b5e1b7"/>
<rect x="990.25" y="480.05" width="163.95" height="7.33" fill="#c1e6b5"/>
<rect x="1153.90" y="480.05" width="131.22" height="7.33" fill="#5ca3c9"/>
<rect x="1284.82" y="480.05" width="65.76" height="7.33" fill="#67bdc0"/>
<rect x="1350.28" y="480.05" width="294.87" height="7.33" fill="#5ca3c9"/>
<rect x="1644.85" y="480.05" width="33.03" height="7.33" fill="#5ea8c8"/>
<rect x="1677.58" y="480.05" width="98.19" height="7.33" fill="#6395c5"/>
<rect x="218.00" y="487.08" width="85.22" height="7.33" fill="#63b4c3"/>
<rect x="302.92" y="487.08" width="294.87" height="7.33" fill="#c1e6b5"/>
<rect x="597.50" y="487.08" width="229.41" height="7.33" fill="#c5e8b4"/>
<rect x="826.61" y="487.08" width="163.95" height="7.33" fill="#62b0c5"/>
<rect x="990.25" y="487.08" width="163.95" height="7.33" fill="#63b4c3"/>
<rect x="1153.90" y="487.08" width="196.68" height="7.33" fill="#ddf1af"/>
<rect x="1350.28" y="487.08" width="33.03" height="7.33" fill="#ebf7ad"/>
<rect x="1383.01" y="487.08" width="98.49" height="7.33" fill="#d8efb0"/>
<rect x="1481.20" y="487.08" width="33.03" height="7.33" fill="#e6f5ae"/>
<rect x="1513.93" y="487.08" width="98.49" height="7.33" fill="#d3edb1"/>
<rect x="1612.12" y="487.08" width="65.76" height="7.33" fill="#62b0c5"/>
<rect x="1677.58" y="487.08" width="65.76" height="7.33" fill="#5c9fca"/>
<rect x="1743.04" y="487.08" width="32.73" height="7.33" fill="#6790c3"/>
<rect x="218.00" y="494.11" width="19.77" height="7.33" fill="#84d0bb"/>
<rect x="237.47" y="494.11" width="65.76" height="7.33" fill="#92d5ba"/>
<rect x="302.92" y="494.11" width="687.63" height="7.33" fill="#6790c3"/>
<rect x="990.25" y="494.11" width="33.03" height="7.33" fill="#6b8bc0"/>
<rect x="1022.98" y="494.11" width="360.33" height="7.33" fill="#609ac7"/>
<rect x="1383.01" y="494.11" width="229.41" height="7.33" fill="#6395c5"/>
<rect x="1612.12" y="494.11" width="131.22" height="7.33" fill="#aedfb7"/>
<rect x="1743.04" y="494.11" width="32.73" height="7.33" fill="#bce4b6"/>
<rect x="218.00" y="501.14" width="772.55" height="7.33" fill="#5c9fca"/>
<rect x="990.25" y="501.14" width="33.03" height="7.33" fill="#609ac7"/>
<rect x="1022.98" y="501.14" width="360.33" height="7.33" fill="#60acc6"/>
<rect x="1383.01" y="501.14" width="33.03" height="7.33" fill="#68c1bf"/>
<rect x="1415.74" y="501.14" width="360.03" height="7.33" fill="#5ca3c9"/>
<rect x="218.00" y="508.17" width="772.55" height="7.33" fill="#5c9fca"/>
<rect x="990.25" y="508.17" width="131.22" height="7.33" fill="#5ea8c8"/>
<rect x="1121.17" y="508.17" width="163.95" height="7.33" fill="#62b0c5"/>
<rect x="1284.82" y="508.17" width="98.49" height="7.33" fill="#68c1bf"/>
<rect x="1383.01" y="508.17" width="33.03" height="7.33" fill="#67bdc0"/>
<rect x="1415.74" y="508.17" width="33.03" height="7.33" fill="#84d0bb"/>
<rect x="1448.47" y="508.17" width="33.03" height="7.33" fill="#68c1bf"/>
<rect x="1481.20" y="508.17" width="196.68" height="7.33" fill="#63b4c3"/>
<rect x="1677.58" y="508.17" width="98.19" height="7.33" fill="#60acc6"/>
<rect x="218.00" y="515.20" width="576.17" height="7.33" fill="#5c9fca"/>
<rect x="793.88" y="515.20" width="65.76" height="7.33" fill="#65b9c2"/>
<rect x="859.33" y="515.20" width="131.22" height="7.33" fill="#62b0c5"/>
<rect x="990.25" y="515.20" width="65.76" height="7.33" fill="#67bdc0"/>
<rect x="1055.71" y="515.20" width="196.68" height="7.33" fill="#65b9c2"/>
<rect x="1252.09" y="515.20" width="33.03" height="7.33" fill="#92d5ba"/>
<rect x="1284.82" y="515.20" width="163.95" height="7.33" fill="#68c1bf"/>
<rect x="1448.47" y="515.20" width="33.03" height="7.33" fill="#92d5ba"/>
<rect x="1481.20" y="515.20" width="98.49" height="7.33" fill="#76cbbc"/>
<rect x="1579.39" y="515.20" width="33.03" height="7.33" fill="#67bdc0"/>
<rect x="1612.12" y="515.20" width="163.65" height="7.33" fill="#5ea8c8"/>
<rect x="218.00" y="522.23" width="379.80" height="7.33" fill="#7381bc"/>
<rect x="597.50" y="522.23" width="196.68" height="7.33" fill="#5c9fca"/>
<rect x="793.88" y="522.23" width="262.14" height="7.33" fill="#7381bc"/>
<rect x="1055.71" y="522.23" width="294.87" height="7.33" fill="#5c9fca"/>
<rect x="1350.28" y="522.23" width="131.22" height="7.33" fill="#6f86be"/>
<rect x="1481.20" y="522.23" width="33.03" height="7.33" fill="#5c9fca"/>
<rect x="1513.93" y="522.23" width="33.03" height="7.33" fill="#60acc6"/>
<rect x="1546.66" y="522.23" width="33.03" height="7.33" fill="#5ca3c9"/>
<rect x="1579.39" y="522.23" width="131.22" height="7.33" fill="#63b4c3"/>
<rect x="1710.31" y="522.23" width="65.46" height="7.33" fill="#6395c5"/>
<rect x="218.00" y="529.26" width="150.69" height="7.33" fill="#609ac7"/>
<rect x="368.38" y="529.26" width="229.41" height="7.33" fill="#62b0c5"/>
<rect x="597.50" y="529.26" width="262.14" height="7.33" fill="#609ac7"/>
<rect x="859.33" y="529.26" width="163.95" height="7.33" fill="#5ea8c8"/>
<rect x="1022.98" y="529.26" width="229.41" height="7.33" fill="#62b0c5"/>
<rect x="1252.09" y="529.26" width="65.76" height="7.33" fill="#6ac6bd"/>
<rect x="1317.55" y="529.26" width="65.76" height="7.33" fill="#63b4c3"/>
<rect x="1383.01" y="529.26" width="163.95" height="7.33" fill="#60acc6"/>
<rect x="1546.66" y="529.26" width="33.03" height="7.33" fill="#63b4c3"/>
<rect x="1579.39" y="529.26" width="131.22" height="7.33" fill="#6b8bc0"/>
<rect x="1710.31" y="529.26" width="65.46" height="7.33" fill="#5ea8c8"/>
<rect x="218.00" y="536.29" width="150.69" height="7.33" fill="#60acc6"/>
<rect x="368.38" y="536.29" width="229.41" height="7.33" fill="#6395c5"/>
<rect x="597.50" y="536.29" width="163.95" height="7.33" fill="#609ac7"/>
<rect x="761.14" y="536.29" width="65.76" height="7.33" fill="#5ea8c8"/>
<rect x="826.61" y="536.29" width="33.03" height="7.33" fill="#5c9fca"/>
<rect x="859.33" y="536.29" width="131.22" height="7.33" fill="#6395c5"/>
<rect x="990.25" y="536.29" width="98.49" height="7.33" fill="#6b8bc0"/>
<rect x="1088.44" y="536.29" width="294.87" height="7.33" fill="#5c9fca"/>
<rect x="1383.01" y="536.29" width="65.76" height="7.33" fill="#5ea8c8"/>
<rect x="1448.47" y="536.29" width="65.76" height="7.33" fill="#609ac7"/>
<rect x="1513.93" y="536.29" width="33.03" height="7.33" fill="#5ea8c8"/>
<rect x="1546.66" y="536.29" width="33.03" height="7.33" fill="#6395c5"/>
<rect x="1579.39" y="536.29" width="163.95" height="7.33" fill="#62b0c5"/>
<rect x="1743.04" y="536.29" width="32.73" height="7.33" fill="#5c9fca"/>
<rect x="218.00" y="543.32" width="347.06" height="7.33" fill="#609ac7"/>
<rect x="564.76" y="543.32" width="33.03" height="7.33" fill="#60acc6"/>
<rect x="597.50" y="543.32" width="163.95" height="7.33" fill="#5ea8c8"/>
<rect x="761.14" y="543.32" width="65.76" height="7.33" fill="#5c9fca"/>
<rect x="826.61" y="543.32" width="163.95" height="7.33" fill="#5ca3c9"/>
<rect x="990.25" y="543.32" width="196.68" height="7.33" fill="#60acc6"/>
<rect x="1186.63" y="543.32" width="196.68" height="7.33" fill="#63b4c3"/>
<rect x="1383.01" y="543.32" width="229.41" height="7.33" fill="#5ea8c8"/>
<rect x="1612.12" y="543.32" width="131.22" height="7.33" fill="#5c9fca"/>
<rect x="1743.04" y="543.32" width="32.73" height="7.33" fill="#63b4c3"/>
<rect x="218.00" y="550.35" width="150.69" height="7.33" fill="#5ca3c9"/>
<rect x="368.38" y="550.35" width="196.68" height="7.33" fill="#65b9c2"/>
<rect x="564.76" y="550.35" width="425.79" height="7.33" fill="#60acc6"/>
<rect x="990.25" y="550.35" width="33.03" height="7.33" fill="#5ea8c8"/>
<rect x="1022.98" y="550.35" width="196.68" height="7.33" fill="#63b4c3"/>
<rect x="1219.36" y="550.35" width="33.03" height="7.33" fill="#76cbbc"/>
<rect x="1252.09" y="550.35" width="294.87" height="7.33" fill="#63b4c3"/>
<rect x="1546.66" y="550.35" width="65.76" height="7.33" fill="#67bdc0"/>
<rect x="1612.12" y="550.35" width="163.65" height="7.33" fill="#7dcebb"/>
<rect x="218.00" y="557.38" width="19.77" height="7.33" fill="#62b0c5"/>
<rect x="237.47" y="557.38" width="131.22" height="7.33" fill="#68c1bf"/>
<rect x="368.38" y="557.38" width="622.17" height="7.33" fill="#60acc6"/>
<rect x="990.25" y="557.38" width="98.49" height="7.33" fill="#63b4c3"/>
<rect x="1088.44" y="557.38" width="65.76" height="7.33" fill="#76cbbc"/>
<rect x="1153.90" y="557.38" width="65.76" height="7.33" fill="#92d5ba"/>
<rect x="1219.36" y="557.38" width="327.60" height="7.33" fill="#63b4c3"/>
<rect x="1546.66" y="557.38" width="33.03" height="7.33" fill="#6ac6bd"/>
<rect x="1579.39" y="557.38" width="33.03" height="7.33" fill="#62b0c5"/>
<rect x="1612.12" y="557.38" width="65.76" height="7.33" fill="#63b4c3"/>
<rect x="1677.58" y="557.38" width="98.19" height="7.33" fill="#5ea8c8"/>
<rect x="218.00" y="564.41" width="19.77" height="7.33" fill="#5c9fca"/>
<rect x="237.47" y="564.41" width="753.09" height="7.33" fill="#6790c3"/>
<rect x="990.25" y="564.41" width="163.95" height="7.33" fill="#5c9fca"/>
<rect x="1153.90" y="564.41" width="33.03" height="7.33" fill="#67bdc0"/>
<rect x="1186.63" y="564.41" width="65.76" height="7.33" fill="#5ea8c8"/>
<rect x="1252.09" y="564.41" width="523.68" height="7.33" fill="#5c9fca"/>
<rect x="218.00" y="571.44" width="707.09" height="7.33" fill="#6790c3"/>
<rect x="924.79" y="571.44" width="65.76" height="7.33" fill="#5c9fca"/>
<rect x="990.25" y="571.44" width="98.49" height="7.33" fill="#5ea8c8"/>
<rect x="1088.44" y="571.44" width="65.76" height="7.33" fill="#63b4c3"/>
<rect x="1153.90" y="571.44" width="65.76" height="7.33" fill="#6fc9bc"/>
<rect x="1219.36" y="571.44" width="98.49" height="7.33" fill="#67bdc0"/>
<rect x="1317.55" y="571.44" width="65.76" height="7.33" fill="#7dcebb"/>
<rect x="1383.01" y="571.44" width="98.49" height="7.33" fill="#84d0bb"/>
<rect x="1481.20" y="571.44" width="98.49" height="7.33" fill="#68c1bf"/>
<rect x="1579.39" y="571.44" width="65.76" height="7.33" fill="#62b0c5"/>
<rect x="1644.85" y="571.44" width="33.03" height="7.33" fill="#63b4c3"/>
<rect x="1677.58" y="571.44" width="98.19" height="7.33" fill="#5ea8c8"/>
<rect x="218.00" y="578.47" width="379.80" height="7.33" fill="#5ca3c9"/>
<rect x="597.50" y="578.47" width="98.49" height="7.33" fill="#5c9fca"/>
<rect x="695.68" y="578.47" width="229.41" height="7.33" fill="#62b0c5"/>
<rect x="924.79" y="578.47" width="65.76" height="7.33" fill="#5ca3c9"/>
<rect x="990.25" y="578.47" width="98.49" height="7.33" fill="#62b0c5"/>
<rect x="1088.44" y="578.47" width="294.87" height="7.33" fill="#68c1bf"/>
<rect x="1383.01" y="578.47" width="98.49" height="7.33" fill="#63b4c3"/>
<rect x="1481.20" y="578.47" width="98.49" height="7.33" fill="#68c1bf"/>
<rect x="1579.39" y="578.47" width="65.76" height="7.33" fill="#76cbbc"/>
<rect x="1644.85" y="578.47" width="33.03" height="7.33" fill="#63b4c3"/>
<rect x="1677.58" y="578.47" width="98.19" height="7.33" fill="#5ea8c8"/>
<rect x="218.00" y="585.50" width="150.69" height="7.33" fill="#6395c5"/>
<rect x="368.38" y="585.50" width="98.49" height="7.33" fill="#6b8bc0"/>
<rect x="466.57" y="585.50" width="131.22" height="7.33" fill="#609ac7"/>
<rect x="597.50" y="585.50" width="98.49" height="7.33" fill="#5c9fca"/>
<rect x="695.68" y="585.50" width="294.87" height="7.33" fill="#6b8bc0"/>
<rect x="990.25" y="585.50" width="33.03" height="7.33" fill="#6f86be"/>
<rect x="1022.98" y="585.50" width="360.33" height="7.33" fill="#6395c5"/>
<rect x="1383.01" y="585.50" width="196.68" height="7.33" fill="#6790c3"/>
<rect x="1579.39" y="585.50" width="33.03" height="7.33" fill="#5c9fca"/>
<rect x="1612.12" y="585.50" width="33.03" height="7.33" fill="#6b8bc0"/>
<rect x="1644.85" y="585.50" width="98.49" height="7.33" fill="#5c9fca"/>
<rect x="1743.04" y="585.50" width="32.73" height="7.33" fill="#6f86be"/>
<rect x="218.00" y="592.53" width="19.77" height="7.33" fill="#62b0c5"/>
<rect x="237.47" y="592.53" width="98.49" height="7.33" fill="#5ea8c8"/>
<rect x="335.65" y="592.53" width="131.22" height="7.33" fill="#62b0c5"/>
<rect x="466.57" y="592.53" width="131.22" height="7.33" fill="#5ca3c9"/>
<rect x="597.50" y="592.53" width="294.87" height="7.33" fill="#60acc6"/>
<rect x="892.06" y="592.53" width="131.22" height="7.33" fill="#ddf1af"/>
<rect x="1022.98" y="592.53" width="360.33" height="7.33" fill="#d8efb0"/>
<rect x="1383.01" y="592.53" width="131.22" height="7.33" fill="#ebf7ad"/>
<rect x="1513.93" y="592.53" width="163.95" height="7.33" fill="#e2f3af"/>
<rect x="1677.58" y="592.53" width="65.76" height="7.33" fill="#d3edb1"/>
<rect x="1743.04" y="592.53" width="32.73" height="7.33" fill="#e2f3af"/>
<rect x="218.00" y="599.56" width="19.77" height="7.33" fill="#6f86be"/>
<rect x="237.47" y="599.56" width="65.76" height="7.33" fill="#6395c5"/>
<rect x="302.92" y="599.56" width="163.95" height="7.33" fill="#6b8bc0"/>
<rect x="466.57" y="599.56" width="131.22" height="7.33" fill="#5ca3c9"/>
<rect x="597.50" y="599.56" width="33.03" height="7.33" fill="#5c9fca"/>
<rect x="630.22" y="599.56" width="262.14" height="7.33" fill="#bce4b6"/>
<rect x="892.06" y="599.56" width="491.25" height="7.33" fill="#6f86be"/>
<rect x="1383.01" y="599.56" width="98.49" height="7.33" fill="#609ac7"/>
<rect x="1481.20" y="599.56" width="229.41" height="7.33" fill="#6b8bc0"/>
<rect x="1710.31" y="599.56" width="65.46" height="7.33" fill="#6395c5"/>
<rect x="218.00" y="606.59" width="19.77" height="7.33" fill="#5c9fca"/>
<rect x="237.47" y="606.59" width="65.76" height="7.33" fill="#6790c3"/>
<rect x="302.92" y="606.59" width="98.49" height="7.33" fill="#a7dcb8"/>
<rect x="401.12" y="606.59" width="65.76" height="7.33" fill="#bce4b6"/>
<rect x="466.57" y="606.59" width="131.22" height="7.33" fill="#a7dcb8"/>
<rect x="597.50" y="606.59" width="33.03" height="7.33" fill="#99d8b9"/>
<rect x="630.22" y="606.59" width="360.33" height="7.33" fill="#6b8bc0"/>
<rect x="990.25" y="606.59" width="65.76" height="7.33" fill="#609ac7"/>
<rect x="1055.71" y="606.59" width="327.60" height="7.33" fill="#5ea8c8"/>
<rect x="1383.01" y="606.59" width="33.03" height="7.33" fill="#60acc6"/>
<rect x="1415.74" y="606.59" width="65.76" height="7.33" fill="#67bdc0"/>
<rect x="1481.20" y="606.59" width="33.03" height="7.33" fill="#60acc6"/>
<rect x="1513.93" y="606.59" width="261.84" height="7.33" fill="#63b4c3"/>
<rect x="218.00" y="613.62" width="19.77" height="7.33" fill="#5c9fca"/>
<rect x="237.47" y="613.62" width="65.76" height="7.33" fill="#bce4b6"/>
<rect x="302.92" y="613.62" width="33.03" height="7.33" fill="#609ac7"/>
<rect x="335.65" y="613.62" width="33.03" height="7.33" fill="#5ea8c8"/>
<rect x="368.38" y="613.62" width="33.03" height="7.33" fill="#65b9c2"/>
<rect x="401.12" y="613.62" width="196.68" height="7.33" fill="#5ea8c8"/>
<rect x="597.50" y="613.62" width="262.14" height="7.33" fill="#5ca3c9"/>
<rect x="859.33" y="613.62" width="458.52" height="7.33" fill="#fed291"/>
<rect x="1317.55" y="613.62" width="65.76" height="7.33" fill="#fecc8d"/>
<rect x="1383.01" y="613.62" width="131.22" height="7.33" fill="#fba977"/>
<rect x="1513.93" y="613.62" width="261.84" height="7.33" fill="#fec485"/>
<rect x="218.00" y="620.65" width="19.77" height="7.33" fill="#c1e6b5"/>
<rect x="237.47" y="620.65" width="33.03" height="7.33" fill="#5ea8c8"/>
<rect x="270.19" y="620.65" width="65.76" height="7.33" fill="#62b0c5"/>
<rect x="335.65" y="620.65" width="33.03" height="7.33" fill="#5ea8c8"/>
<rect x="368.38" y="620.65" width="196.68" height="7.33" fill="#6395c5"/>
<rect x="564.76" y="620.65" width="33.03" height="7.33" fill="#fee09d"/>
<rect x="597.50" y="620.65" width="262.14" height="7.33" fill="#fedb99"/>
<rect x="859.33" y="620.65" width="131.22" height="7.33" fill="#609ac7"/>
<rect x="990.25" y="620.65" width="393.06" height="7.33" fill="#5c9fca"/>
<rect x="1383.01" y="620.65" width="196.68" height="7.33" fill="#5ea8c8"/>
<rect x="1579.39" y="620.65" width="98.49" height="7.33" fill="#5c9fca"/>
<rect x="1677.58" y="620.65" width="98.19" height="7.33" fill="#609ac7"/>
<rect x="218.00" y="627.68" width="52.49" height="7.33" fill="#5ca3c9"/>
<rect x="270.19" y="627.68" width="131.22" height="7.33" fill="#fee09d"/>
<rect x="401.12" y="627.68" width="163.95" height="7.33" fill="#fed896"/>
<rect x="564.76" y="627.68" width="818.55" height="7.33" fill="#5c9fca"/>
<rect x="1383.01" y="627.68" width="98.49" height="7.33" fill="#5ca3c9"/>
<rect x="1481.20" y="627.68" width="65.76" height="7.33" fill="#68c1bf"/>
<rect x="1546.66" y="627.68" width="33.03" height="7.33" fill="#60acc6"/>
<rect x="1579.39" y="627.68" width="98.49" height="7.33" fill="#5ca3c9"/>
<rect x="1677.58" y="627.68" width="98.19" height="7.33" fill="#609ac7"/>
<rect x="218.00" y="634.71" width="52.49" height="7.33" fill="#fed594"/>
<rect x="270.19" y="634.71" width="720.36" height="7.33" fill="#60acc6"/>
<rect x="990.25" y="634.71" width="393.06" height="7.33" fill="#62b0c5"/>
<rect x="1383.01" y="634.71" width="131.22" height="7.33" fill="#60acc6"/>
<rect x="1513.93" y="634.71" width="33.03" height="7.33" fill="#a0dab8"/>
<rect x="1546.66" y="634.71" width="33.03" height="7.33" fill="#65b9c2"/>
<rect x="1579.39" y="634.71" width="33.03" height="7.33" fill="#62b0c5"/>
<rect x="1612.12" y="634.71" width="65.76" height="7.33" fill="#60acc6"/>
<rect x="1677.58" y="634.71" width="98.19" height="7.33" fill="#5c9fca"/>
<rect x="218.00" y="641.74" width="1263.50" height="7.33" fill="#6f86be"/>
<rect x="1481.20" y="641.74" width="65.76" height="7.33" fill="#609ac7"/>
<rect x="1546.66" y="641.74" width="33.03" height="7.33" fill="#5ea8c8"/>
<rect x="1579.39" y="641.74" width="33.03" height="7.33" fill="#5c9fca"/>
<rect x="1612.12" y="641.74" width="65.76" height="7.33" fill="#5ca3c9"/>
<rect x="1677.58" y="641.74" width="98.19" height="7.33" fill="#6395c5"/>
<rect x="218.00" y="648.77" width="772.55" height="7.33" fill="#6790c3"/>
<rect x="990.25" y="648.77" width="393.06" height="7.33" fill="#6b8bc0"/>
<rect x="1383.01" y="648.77" width="98.49" height="7.33" fill="#6f86be"/>
<rect x="1481.20" y="648.77" width="65.76" height="7.33" fill="#609ac7"/>
<rect x="1546.66" y="648.77" width="33.03" height="7.33" fill="#62b0c5"/>
<rect x="1579.39" y="648.77" width="33.03" height="7.33" fill="#609ac7"/>
<rect x="1612.12" y="648.77" width="65.76" height="7.33" fill="#6b8bc0"/>
<rect x="1677.58" y="648.77" width="33.03" height="7.33" fill="#5c9fca"/>
<rect x="1710.31" y="648.77" width="65.46" height="7.33" fill="#6395c5"/>
<rect x="218.00" y="655.80" width="772.55" height="7.33" fill="#6790c3"/>
<rect x="990.25" y="655.80" width="491.25" height="7.33" fill="#6b8bc0"/>
<rect x="1481.20" y="655.80" width="65.76" height="7.33" fill="#6395c5"/>
<rect x="1546.66" y="655.80" width="163.95" height="7.33" fill="#609ac7"/>
<rect x="1710.31" y="655.80" width="65.46" height="7.33" fill="#5ea8c8"/>
<rect x="218.00" y="662.83" width="936.20" height="7.33" fill="#6790c3"/>
<rect x="1153.90" y="662.83" width="131.22" height="7.33" fill="#609ac7"/>
<rect x="1284.82" y="662.83" width="196.68" height="7.33" fill="#6790c3"/>
<rect x="1481.20" y="662.83" width="65.76" height="7.33" fill="#6395c5"/>
<rect x="1546.66" y="662.83" width="196.68" height="7.33" fill="#6fc9bc"/>
<rect x="1743.04" y="662.83" width="32.73" height="7.33" fill="#76cbbc"/>
<rect x="218.00" y="669.86" width="1328.96" height="7.33" fill="#6395c5"/>
<rect x="1546.66" y="669.86" width="33.03" height="7.33" fill="#63b4c3"/>
<rect x="1579.39" y="669.86" width="33.03" height="7.33" fill="#62b0c5"/>
<rect x="1612.12" y="669.86" width="163.65" height="7.33" fill="#5c9fca"/>
<rect x="218.00" y="676.89" width="379.80" height="7.33" fill="#6b8bc0"/>
<rect x="597.50" y="676.89" width="785.82" height="7.33" fill="#6f86be"/>
<rect x="1383.01" y="676.89" width="163.95" height="7.33" fill="#6b8bc0"/>
<rect x="1546.66" y="676.89" width="65.76" height="7.33" fill="#6395c5"/>
<rect x="1612.12" y="676.89" width="33.03" height="7.33" fill="#6790c3"/>
<rect x="1644.85" y="676.89" width="65.76" height="7.33" fill="#6b8bc0"/>
<rect x="1710.31" y="676.89" width="33.03" height="7.33" fill="#609ac7"/>
<rect x="1743.04" y="676.89" width="32.73" height="7.33" fill="#5c9fca"/>
<rect x="218.00" y="683.92" width="1132.58" height="7.33" fill="#609ac7"/>
<rect x="1350.28" y="683.92" width="33.03" height="7.33" fill="#6790c3"/>
<rect x="1383.01" y="683.92" width="163.95" height="7.33" fill="#6b8bc0"/>
<rect x="1546.66" y="683.92" width="65.76" height="7.33" fill="#609ac7"/>
<rect x="1612.12" y="683.92" width="65.76" height="7.33" fill="#5c9fca"/>
<rect x="1677.58" y="683.92" width="33.03" height="7.33" fill="#6395c5"/>
<rect x="1710.31" y="683.92" width="33.03" height="7.33" fill="#5c9fca"/>
<rect x="1743.04" y="683.92" width="32.73" height="7.33" fill="#5ca3c9"/>
<rect x="218.00" y="690.95" width="379.80" height="7.33" fill="#6b8bc0"/>
<rect x="597.50" y="690.95" width="982.20" height="7.33" fill="#7381bc"/>
<rect x="1579.39" y="690.95" width="33.03" height="7.33" fill="#6790c3"/>
<rect x="1612.12" y="690.95" width="33.03" height="7.33" fill="#6f86be"/>
<rect x="1644.85" y="690.95" width="65.76" height="7.33" fill="#6b8bc0"/>
<rect x="1710.31" y="690.95" width="33.03" height="7.33" fill="#5c9fca"/>
<rect x="1743.04" y="690.95" width="32.73" height="7.33" fill="#62b0c5"/>
<rect x="218.00" y="697.98" width="19.77" height="7.33" fill="#6395c5"/>
<rect x="237.47" y="697.98" width="1473.15" height="7.33" fill="#6b8bc0"/>
<rect x="1710.31" y="697.98" width="33.03" height="7.33" fill="#5c9fca"/>
<rect x="1743.04" y="697.98" width="32.73" height="7.33" fill="#5ea8c8"/>
<rect x="218.00" y="705.01" width="1165.31" height="7.33" fill="#6f86be"/>
<rect x="1383.01" y="705.01" width="327.60" height="7.33" fill="#6b8bc0"/>
<rect x="1710.31" y="705.01" width="65.46" height="7.33" fill="#5c9fca"/>
<rect x="218.00" y="712.04" width="1361.69" height="7.33" fill="#609ac7"/>
<rect x="1579.39" y="712.04" width="33.03" height="7.33" fill="#5ea8c8"/>
<rect x="1612.12" y="712.04" width="33.03" height="7.33" fill="#63b4c3"/>
<rect x="1644.85" y="712.04" width="33.03" height="7.33" fill="#5ca3c9"/>
<rect x="1677.58" y="712.04" width="65.76" height="7.33" fill="#fee29f"/>
<rect x="1743.04" y="712.04" width="32.73" height="7.33" fill="#fee6a2"/>
<rect x="218.00" y="719.07" width="216.14" height="7.33" fill="#6b8bc0"/>
<rect x="433.84" y="719.07" width="1178.58" height="7.33" fill="#f1f9b5"/>
<rect x="1612.12" y="719.07" width="65.76" height="7.33" fill="#f8fabb"/>
<rect x="1677.58" y="719.07" width="33.03" height="7.33" fill="#b13468"/>
<rect x="1710.31" y="719.07" width="33.03" height="7.33" fill="#c1456b"/>
<rect x="1743.04" y="719.07" width="32.73" height="7.33" fill="#ca4f6e"/>
<rect x="218.00" y="726.10" width="216.14" height="7.33" fill="#faf3b3"/>
<rect x="433.84" y="726.10" width="1341.93" height="7.33" fill="#62b0c5"/>
<rect x="218.00" y="733.13" width="1165.31" height="7.33" fill="#65b9c2"/>
<rect x="1383.01" y="733.13" width="229.41" height="7.33" fill="#84d0bb"/>
<rect x="1612.12" y="733.13" width="65.76" height="7.33" fill="#aedfb7"/>
<rect x="1677.58" y="733.13" width="98.19" height="7.33" fill="#a0dab8"/>
<rect x="218.00" y="740.16" width="379.80" height="7.33" fill="#6790c3"/>
<rect x="597.50" y="740.16" width="327.60" height="7.33" fill="#6b8bc0"/>
<rect x="924.79" y="740.16" width="458.52" height="7.33" fill="#5ca3c9"/>
<rect x="1383.01" y="740.16" width="229.41" height="7.33" fill="#6f86be"/>
<rect x="1612.12" y="740.16" width="98.49" height="7.33" fill="#5c9fca"/>
<rect x="1710.31" y="740.16" width="65.46" height="7.33" fill="#6395c5"/>
<rect x="218.00" y="747.19" width="477.98" height="7.33" fill="#6395c5"/>
<rect x="695.68" y="747.19" width="229.41" height="7.33" fill="#60acc6"/>
<rect x="924.79" y="747.19" width="687.63" height="7.33" fill="#6395c5"/>
<rect x="1612.12" y="747.19" width="65.76" height="7.33" fill="#5ea8c8"/>
<rect x="1677.58" y="747.19" width="98.19" height="7.33" fill="#5c9fca"/>
<rect x="218.00" y="754.22" width="281.60" height="7.33" fill="#63b4c3"/>
<rect x="499.30" y="754.22" width="196.68" height="7.33" fill="#6fc9bc"/>
<rect x="695.68" y="754.22" width="916.74" height="7.33" fill="#63b4c3"/>
<rect x="1612.12" y="754.22" width="65.76" height="7.33" fill="#68c1bf"/>
<rect x="1677.58" y="754.22" width="98.19" height="7.33" fill="#62b0c5"/>
<rect x="218.00" y="761.25" width="85.22" height="7.33" fill="#609ac7"/>
<rect x="302.92" y="761.25" width="196.68" height="7.33" fill="#60acc6"/>
<rect x="499.30" y="761.25" width="327.60" height="7.33" fill="#609ac7"/>
<rect x="826.61" y="761.25" width="851.28" height="7.33" fill="#6395c5"/>
<rect x="1677.58" y="761.25" width="98.19" height="7.33" fill="#6790c3"/>
<rect x="218.00" y="768.28" width="85.22" height="7.33" fill="#65b9c2"/>
<rect x="302.92" y="768.28" width="1047.66" height="7.33" fill="#5ea8c8"/>
<rect x="1350.28" y="768.28" width="33.03" height="7.33" fill="#67bdc0"/>
<rect x="1383.01" y="768.28" width="98.49" height="7.33" fill="#68c1bf"/>
<rect x="1481.20" y="768.28" width="196.68" height="7.33" fill="#65b9c2"/>
<rect x="1677.58" y="768.28" width="98.19" height="7.33" fill="#62b0c5"/>
<rect x="218.00" y="775.31" width="968.93" height="7.33" fill="#65b9c2"/>
<rect x="1186.63" y="775.31" width="163.95" height="7.33" fill="#76cbbc"/>
<rect x="1350.28" y="775.31" width="327.60" height="7.33" fill="#65b9c2"/>
<rect x="1677.58" y="775.31" width="98.19" height="7.33" fill="#62b0c5"/>
<rect x="218.00" y="782.34" width="183.42" height="7.33" fill="#63b4c3"/>
<rect x="401.12" y="782.34" width="785.82" height="7.33" fill="#76cbbc"/>
<rect x="1186.63" y="782.34" width="491.25" height="7.33" fill="#63b4c3"/>
<rect x="1677.58" y="782.34" width="98.19" height="7.33" fill="#5c9fca"/>
<rect x="218.00" y="789.37" width="183.42" height="7.33" fill="#65b9c2"/>
<rect x="401.12" y="789.37" width="196.68" height="7.33" fill="#60acc6"/>
<rect x="597.50" y="789.37" width="1080.39" height="7.33" fill="#62b0c5"/>
<rect x="1677.58" y="789.37" width="98.19" height="7.33" fill="#5c9fca"/>
<rect x="218.00" y="796.40" width="183.42" height="7.33" fill="#65b9c2"/>
<rect x="401.12" y="796.40" width="589.44" height="7.33" fill="#60acc6"/>
<rect x="990.25" y="796.40" width="654.90" height="7.33" fill="#5ea8c8"/>
<rect x="1644.85" y="796.40" width="130.92" height="7.33" fill="#609ac7"/>
<rect x="218.00" y="803.43" width="1459.88" height="7.33" fill="#5c9fca"/>
<rect x="1677.58" y="803.43" width="98.19" height="7.33" fill="#609ac7"/>
<rect x="218.00" y="810.46" width="870.74" height="7.33" fill="#caeab3"/>
<rect x="1088.44" y="810.46" width="589.44" height="7.33" fill="#bce4b6"/>
<rect x="1677.58" y="810.46" width="98.19" height="7.33" fill="#92d5ba"/>
<rect x="218.00" y="817.49" width="739.82" height="7.33" fill="#62b0c5"/>
<rect x="957.52" y="817.49" width="425.79" height="7.33" fill="#5ea8c8"/>
<rect x="1383.01" y="817.49" width="392.76" height="7.33" fill="#5ca3c9"/>
<rect x="218.00" y="824.52" width="1132.58" height="7.33" fill="#5ea8c8"/>
<rect x="1350.28" y="824.52" width="327.60" height="7.33" fill="#5ca3c9"/>
<rect x="1677.58" y="824.52" width="98.19" height="7.33" fill="#5c9fca"/>
<rect x="218.00" y="831.55" width="1165.31" height="7.33" fill="#609ac7"/>
<rect x="1383.01" y="831.55" width="294.87" height="7.33" fill="#6395c5"/>
<rect x="1677.58" y="831.55" width="98.19" height="7.33" fill="#6790c3"/>
<rect x="218.00" y="838.58" width="772.55" height="7.33" fill="#67bdc0"/>
<rect x="990.25" y="838.58" width="360.33" height="7.33" fill="#65b9c2"/>
<rect x="1350.28" y="838.58" width="327.60" height="7.33" fill="#62b0c5"/>
<rect x="1677.58" y="838.58" width="98.19" height="7.33" fill="#5ca3c9"/>
<rect x="218.00" y="845.61" width="1557.77" height="7.33" fill="#6395c5"/>
<rect x="218.00" y="852.64" width="150.69" height="7.33" fill="#6790c3"/>
<rect x="368.38" y="852.64" width="1407.39" height="7.33" fill="#6395c5"/>
<rect x="218.00" y="859.67" width="150.69" height="7.33" fill="#609ac7"/>
<rect x="368.38" y="859.67" width="1178.58" height="7.33" fill="#6395c5"/>
<rect x="1546.66" y="859.67" width="229.11" height="7.33" fill="#6790c3"/>
<rect x="218.00" y="866.70" width="870.74" height="7.33" fill="#6b8bc0"/>
<rect x="1088.44" y="866.70" width="687.33" height="7.33" fill="#6f86be"/>
<rect x="218.00" y="873.73" width="1557.77" height="7.33" fill="#7381bc"/>
<rect x="218.00" y="880.76" width="1459.88" height="7.33" fill="#6395c5"/>
<rect x="1677.58" y="880.76" width="98.19" height="7.33" fill="#7381bc"/>
<rect x="218.00" y="887.79" width="1165.31" height="7.33" fill="#7381bc"/>
<rect x="1383.01" y="887.79" width="392.76" height="7.33" fill="#757fba"/>
<rect x="218.00" y="894.82" width="1459.88" height="7.33" fill="#6f86be"/>
<rect x="1677.58" y="894.82" width="98.19" height="7.33" fill="#7184bd"/>
<rect x="218.00" y="901.85" width="1165.31" height="7.33" fill="#6f86be"/>
<rect x="1383.01" y="901.85" width="294.87" height="7.33" fill="#7381bc"/>
<rect x="1677.58" y="901.85" width="33.03" height="7.33" fill="#7184bd"/>
<rect x="1710.31" y="901.85" width="65.46" height="7.33" fill="#6b8bc0"/>
<rect x="218.00" y="908.88" width="1459.88" height="7.33" fill="#7381bc"/>
<rect x="1677.58" y="908.88" width="33.03" height="7.33" fill="#7184bd"/>
<rect x="1710.31" y="908.88" width="65.46" height="7.33" fill="#6d89bf"/>
<rect x="218.00" y="915.91" width="1165.31" height="7.33" fill="#7381bc"/>
<rect x="1383.01" y="915.91" width="294.87" height="7.33" fill="#6f86be"/>
<rect x="1677.58" y="915.91" width="98.19" height="7.33" fill="#7381bc"/>
<rect x="218.00" y="922.94" width="1165.31" height="7.33" fill="#609ac7"/>
<rect x="1383.01" y="922.94" width="294.87" height="7.33" fill="#6790c3"/>
<rect x="1677.58" y="922.94" width="98.19" height="7.33" fill="#6d89bf"/>
<rect x="218.00" y="929.97" width="1165.31" height="7.03" fill="#6395c5"/>
<rect x="1383.01" y="929.97" width="392.76" height="7.03" fill="#609ac7"/>
</g>
<rect x="220.0" y="937.3" width="2" height="16.7" fill="#ececec"/>
<rect x="318.2" y="937.3" width="2" height="16.7" fill="#ececec"/>
<rect x="416.4" y="937.3" width="2" height="16.7" fill="#ececec"/>
<rect x="514.6" y="937.3" width="2" height="16.7" fill="#ececec"/>
<rect x="612.8" y="937.3" width="2" height="16.7" fill="#ececec"/>
<rect x="711.0" y="937.3" width="2" height="16.7" fill="#ececec"/>
<rect x="809.2" y="937.3" width="2" height="16.7" fill="#ececec"/>
<rect x="907.4" y="937.3" width="2" height="16.7" fill="#ececec"/>
<rect x="1005.6" y="937.3" width="2" height="16.7" fill="#ececec"/>
<rect x="1103.8" y="937.3" width="2" height="16.7" fill="#ececec"/>
<rect x="1201.9" y="937.3" width="2" height="16.7" fill="#ececec"/>
<rect x="1300.1" y="937.3" width="2" height="16.7" fill="#ececec"/>
<rect x="1398.3" y="937.3" width="2" height="16.7" fill="#ececec"/>
<rect x="1496.5" y="937.3" width="2" height="16.7" fill="#ececec"/>
<rect x="1594.7" y="937.3" width="2" height="16.7" fill="#ececec"/>
<rect x="1692.9" y="937.3" width="2" height="16.7" fill="#ececec"/>
<rect x="1791.1" y="937.3" width="2" height="16.7" fill="#ececec"/>
<rect x="1894" y="320" width="32" height="616" fill="url(#cb)"/>
</svg>
<svg width="2048" height="1152" viewBox="0 0 2048 1152"><g opacity="0.095" transform="translate(-5755.23,-3393.28) scale(3.628)"><g fill="none" stroke="#1b1b1b" stroke-width="5.4">
<circle cx="1758.4" cy="1094.5" r="11.85"/>
<path d="M1770.2,1080.6 V1105.5 A11.8,11.8 0 0 1 1748.9,1112.6"/>
<path d="M1782.1,1069.2 V1108.4" stroke-width="5.8"/>
<circle cx="1804" cy="1094.5" r="11.85"/>
<path d="M1815.8,1080.6 V1108.4"/>
<path d="M1841.6,1086.9 C1839.6,1083.7 1836.8,1082.6 1833.7,1082.6 C1829.4,1082.6 1826.4,1084.9 1826.4,1088.1 C1826.4,1091.6 1829.2,1093 1833.8,1094.3 C1839,1095.8 1841.8,1097.4 1841.8,1101 C1841.8,1104.4 1838.5,1106.5 1834.3,1106.5 C1830.2,1106.5 1827.3,1104.7 1825.5,1101.6"/>
<path transform="translate(22.9,0)" d="M1841.6,1086.9 C1839.6,1083.7 1836.8,1082.6 1833.7,1082.6 C1829.4,1082.6 1826.4,1084.9 1826.4,1088.1 C1826.4,1091.6 1829.2,1093 1833.8,1094.3 C1839,1095.8 1841.8,1097.4 1841.8,1101 C1841.8,1104.4 1838.5,1106.5 1834.3,1106.5 C1830.2,1106.5 1827.3,1104.7 1825.5,1101.6"/>
<path d="M1874.1,1080.6 V1108.4 M1874.1,1092.3 A9.65,9.65 0 0 1 1893.4,1092.3 V1108.4"/>
<circle cx="1914.4" cy="1094.5" r="11.85"/>
<circle cx="1946.3" cy="1094.5" r="11.85"/>
<path d="M1958.2,1070.3 V1108.4"/>
<path d="M1988.7,1101.9 A11.85,11.85 0 1 1 1991.2,1094.9 H1968" stroke-width="5"/>
</g></g></svg>
<svg width="2048" height="1152" viewBox="0 0 2048 1152">
<defs><clipPath id="pc"><rect x="218" y="234" width="1600" height="703"/></clipPath></defs>
<polyline clip-path="url(#pc)" points="188.4,289.0 221.1,331.0 253.8,447.0 286.6,466.0 319.3,375.0 352.0,357.0 384.8,381.0 417.5,412.5 450.2,434.0 482.9,447.0 515.7,434.0 548.4,412.5 581.1,414.0 613.9,438.0 646.6,454.0 679.3,441.0 712.0,423.0 744.8,420.0 777.5,374.5 810.2,383.0 843.0,413.0 875.7,430.0 908.4,454.0 941.2,444.0 973.9,437.0 1006.6,430.0 1039.3,505.0 1072.1,583.0 1104.8,546.0 1137.5,577.0 1170.3,544.0 1203.0,554.0 1235.7,507.0 1268.5,511.0 1301.2,549.0 1333.9,550.0 1366.6,599.0 1399.4,632.0 1432.1,615.5 1464.8,635.5 1497.6,655.5 1530.3,628.5 1563.0,658.0 1595.8,715.0 1628.5,737.0 1661.2,735.5 1693.9,725.0 1726.7,678.5 1759.4,676.5" fill="none" stroke="#000" stroke-width="3" stroke-linejoin="miter" stroke-linecap="butt"/>
<rect x="1444" y="710" width="340" height="20" fill="none" stroke="#ff2600" stroke-width="6"/>
<g fill="none" stroke="#1b1b1b" stroke-width="5.4">
<circle cx="1758.4" cy="1094.5" r="11.85"/>
<path d="M1770.2,1080.6 V1105.5 A11.8,11.8 0 0 1 1748.9,1112.6"/>
<path d="M1782.1,1069.2 V1108.4" stroke-width="5.8"/>
<circle cx="1804" cy="1094.5" r="11.85"/>
<path d="M1815.8,1080.6 V1108.4"/>
<path d="M1841.6,1086.9 C1839.6,1083.7 1836.8,1082.6 1833.7,1082.6 C1829.4,1082.6 1826.4,1084.9 1826.4,1088.1 C1826.4,1091.6 1829.2,1093 1833.8,1094.3 C1839,1095.8 1841.8,1097.4 1841.8,1101 C1841.8,1104.4 1838.5,1106.5 1834.3,1106.5 C1830.2,1106.5 1827.3,1104.7 1825.5,1101.6"/>
<path transform="translate(22.9,0)" d="M1841.6,1086.9 C1839.6,1083.7 1836.8,1082.6 1833.7,1082.6 C1829.4,1082.6 1826.4,1084.9 1826.4,1088.1 C1826.4,1091.6 1829.2,1093 1833.8,1094.3 C1839,1095.8 1841.8,1097.4 1841.8,1101 C1841.8,1104.4 1838.5,1106.5 1834.3,1106.5 C1830.2,1106.5 1827.3,1104.7 1825.5,1101.6"/>
<path d="M1874.1,1080.6 V1108.4 M1874.1,1092.3 A9.65,9.65 0 0 1 1893.4,1092.3 V1108.4"/>
<circle cx="1914.4" cy="1094.5" r="11.85"/>
<circle cx="1946.3" cy="1094.5" r="11.85"/>
<path d="M1958.2,1070.3 V1108.4"/>
<path d="M1988.7,1101.9 A11.85,11.85 0 1 1 1991.2,1094.9 H1968" stroke-width="5"/>
</g>
</svg>
<div class="abs tw" style="left:51.1px;letter-spacing:-0.430px">ETH:</div><div class="abs tw" style="left:148.4px;letter-spacing:0.730px">Cost</div><div class="abs tw" style="left:244.4px;letter-spacing:-0.375px">Basis</div><div class="abs tw" style="left:350.9px;letter-spacing:1.000px">Distribution</div><div class="abs tw" style="left:570.8px;letter-spacing:0.670px">Heatmap</div>
<div id="legdot" class="abs"></div>
<div id="legend" class="abs">ETH: Cost Basis Distribution Heatmap</div>
<div class="yt" style="top:353px">4.208K</div>
<div class="yt" style="top:594px">3.208K</div>
<div id="yclip"><div>2.20830383K</div></div>
<div class="xt" style="left:171.1px;letter-spacing:0.55px">09 Oct</div>
<div class="xt" style="left:269.3px;letter-spacing:0.10px">12 Oct</div>
<div class="xt" style="left:367.5px;letter-spacing:0.10px">15 Oct</div>
<div class="xt" style="left:465.7px;letter-spacing:0.10px">18 Oct</div>
<div class="xt" style="left:563.9px;letter-spacing:0.55px">21 Oct</div>
<div class="xt" style="left:662.0px;letter-spacing:0.55px">24 Oct</div>
<div class="xt" style="left:760.2px;letter-spacing:0.55px">27 Oct</div>
<div class="xt" style="left:858.4px;letter-spacing:0.55px">30 Oct</div>
<div class="xt" style="left:956.6px;letter-spacing:0.25px">02 Nov</div>
<div class="xt" style="left:1054.8px;letter-spacing:0.25px">05 Nov</div>
<div class="xt" style="left:1153.0px;letter-spacing:0.25px">08 Nov</div>
<div class="xt" style="left:1251.2px;letter-spacing:-0.15px">11 Nov</div>
<div class="xt" style="left:1349.4px;letter-spacing:-0.15px">14 Nov</div>
<div class="xt" style="left:1447.6px;letter-spacing:-0.15px">17 Nov</div>
<div class="xt" style="left:1545.8px;letter-spacing:0.25px">20 Nov</div>
<div class="xt" style="left:1643.9px;letter-spacing:0.25px">23 Nov</div>
<div class="xt" style="left:1742.1px;letter-spacing:0.25px">26 Nov</div>
<div class="cbt" style="top:238px">Supply</div>
<div class="cbt" style="top:283px">4M</div>
<div class="cbt" style="top:954px;letter-spacing:-0.6px">671</div>
<div id="footer" class="abs">© 2025 Glassnode. All Rights Reserved.</div>
</body>
</html>
